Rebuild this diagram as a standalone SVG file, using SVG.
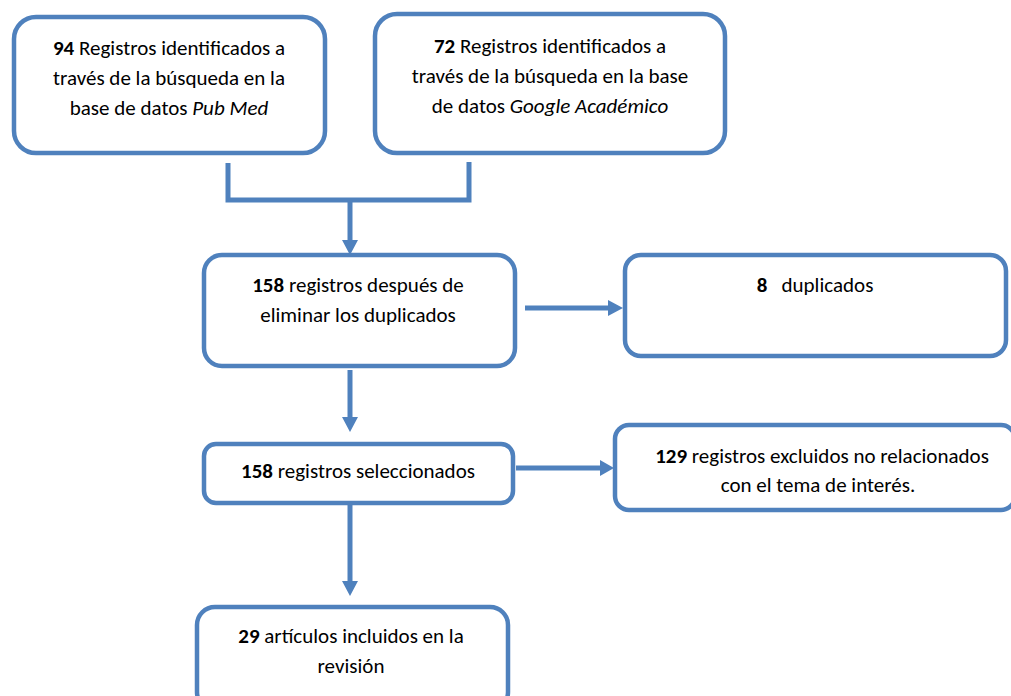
<svg xmlns="http://www.w3.org/2000/svg" width="1011" height="696" viewBox="0 0 1011 696">
<defs>
<style>
.box{fill:#fff;stroke:#4f81bd;stroke-width:4.5}
.ln{fill:none;stroke:#4f81bd;stroke-width:5}
.ah{fill:#4f81bd}
text{font-family:Carlito,Lato,"Liberation Sans",sans-serif;font-size:21px;fill:#000;text-anchor:middle}
.b{font-weight:bold}
.i{font-style:italic}
</style>
</defs>
<rect width="1011" height="696" fill="#fff"/>
<g id="connectors">
<polyline class="ln" points="228,163 228,200 469,200 469,162"/>
<line class="ln" x1="350" y1="200" x2="350" y2="241"/>
<polygon class="ah" points="342,240 358,240 350,255"/>
<line class="ln" x1="525" y1="308" x2="609" y2="308"/>
<polygon class="ah" points="608,300 608,316 623,308"/>
<line class="ln" x1="350" y1="370" x2="350" y2="418"/>
<polygon class="ah" points="342,417 358,417 350,432"/>
<line class="ln" x1="516" y1="468" x2="601" y2="468"/>
<polygon class="ah" points="600,460 600,476 614,468"/>
<line class="ln" x1="350" y1="505" x2="350" y2="582"/>
<polygon class="ah" points="342,581 358,581 350,596"/>
</g>
<g id="n1">
<rect class="box" x="14" y="17" width="311" height="136" rx="22"/>
<text x="169" y="55"><tspan class="b">94</tspan> Registros identificados a</text>
<text x="169" y="85">través de la búsqueda en la</text>
<text x="169" y="115">base de datos <tspan class="i">Pub Med</tspan></text>
</g>
<g id="n2">
<rect class="box" x="375" y="14" width="350" height="139" rx="22"/>
<text x="550" y="53"><tspan class="b">72</tspan> Registros identificados a</text>
<text x="550" y="83">través de la búsqueda en la base</text>
<text x="550" y="113">de datos <tspan class="i">Google Académico</tspan></text>
</g>
<g id="n3">
<rect class="box" x="204" y="255" width="311" height="111" rx="18"/>
<text x="358" y="292"><tspan class="b">158</tspan> registros después de</text>
<text x="358" y="322">eliminar los duplicados</text>
</g>
<g id="n4">
<rect class="box" x="625" y="255" width="381" height="101" rx="16"/>
<text x="815" y="292" xml:space="preserve"><tspan class="b">8</tspan>   duplicados</text>
</g>
<g id="n5">
<rect class="box" x="204" y="444" width="309" height="59" rx="12"/>
<text x="358" y="478"><tspan class="b">158</tspan> registros seleccionados</text>
</g>
<g id="n6">
<rect class="box" x="615" y="425" width="400" height="85" rx="14"/>
<text x="822" y="463"><tspan class="b">129</tspan> registros excluidos no relacionados</text>
<text x="818" y="492">con el tema de interés.</text>
</g>
<g id="n7">
<rect class="box" x="197" y="607" width="311" height="103" rx="18"/>
<text x="351" y="643"><tspan class="b">29</tspan> artículos incluidos en la</text>
<text x="351" y="673">revisión</text>
</g>
</svg>
